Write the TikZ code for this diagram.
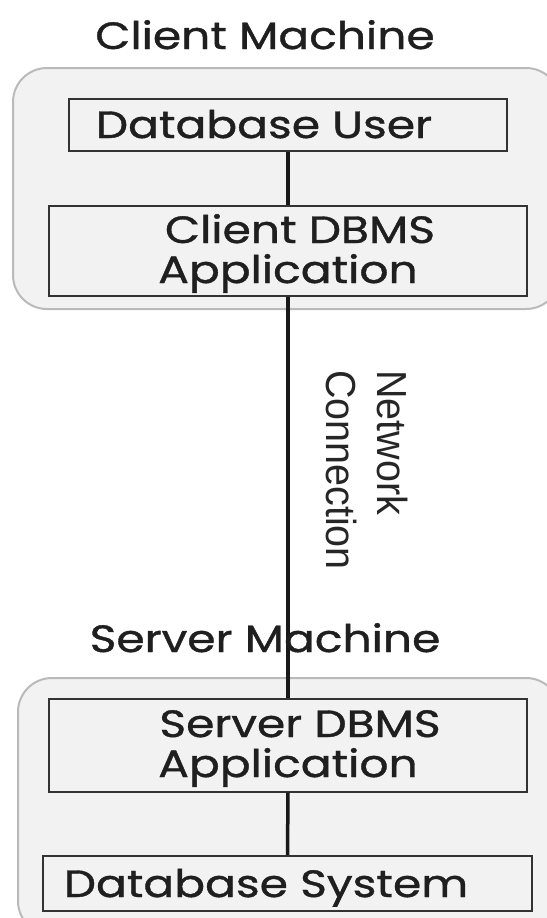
\documentclass[tikz,border=0pt]{standalone}
\usepackage{fontspec}
\newfontfamily\mainf[FakeStretch=1.2,FakeBold=1]{Poppins}
\newfontfamily\netf[FakeStretch=0.94]{Liberation Sans}
\tikzset{
  group/.style={draw=black!27, line width=2pt, fill=black!5, rounded corners=34pt},
  boxnode/.style={draw=black!80, line width=2pt, fill=black!5, inner sep=0pt},
  lbl/.style={font=\mainf\fontsize{38}{46}\selectfont, text=black!88, inner sep=0pt, align=center},
  conn/.style={draw=black!90, line width=3.5pt},
  netlbl/.style={font=\netf\fontsize{42}{51}\selectfont, text=black!85, inner sep=0pt, align=left, rotate=-90}
}
\begin{document}
\begin{tikzpicture}[x=1pt,y=-1pt]
\useasboundingbox (0,0) rectangle (546,918);
\fill[white] (0,0) rectangle (546,918);
% groups
\draw[group] (13,68) rectangle (560,309);
\draw[group] (18,678) rectangle (560,935);
% boxes
\node[boxnode, minimum width=438pt, minimum height=52pt] (du) at (288,125) {};
\node[boxnode, minimum width=478pt, minimum height=90pt] (cd) at (288,251) {};
\node[boxnode, minimum width=478pt, minimum height=93pt] (sd) at (288,745) {};
\node[boxnode, minimum width=489pt, minimum height=55pt] (ds) at (287.5,883.5) {};
% connectors
\draw[conn] (du.south) -- (cd.north);
\draw[conn] (cd.south) -- (sd.north);
\draw[conn] (sd.south) -- (ds.north);
% labels
\node[lbl, anchor=base] (cmt) at (265,49) {Client Machine};
\node[lbl, anchor=base] (dut) at (264,138) {Database User};
\node[lbl, anchor=base] (cdt1) at (300,243) {Client DBMS};
\node[lbl, anchor=base] (cdt2) at (288,283) {Application};
\node[lbl, anchor=base] (smt) at (265,652) {Server Machine};
\node[lbl, anchor=base] (sdt1) at (300,737) {Server DBMS};
\node[lbl, anchor=base] (sdt2) at (288,777) {Application};
\node[lbl, anchor=base] (dst) at (266,897) {Database System};
\node[netlbl] (net) at (367,470) {Network\\Connection};
\end{tikzpicture}
\end{document}
